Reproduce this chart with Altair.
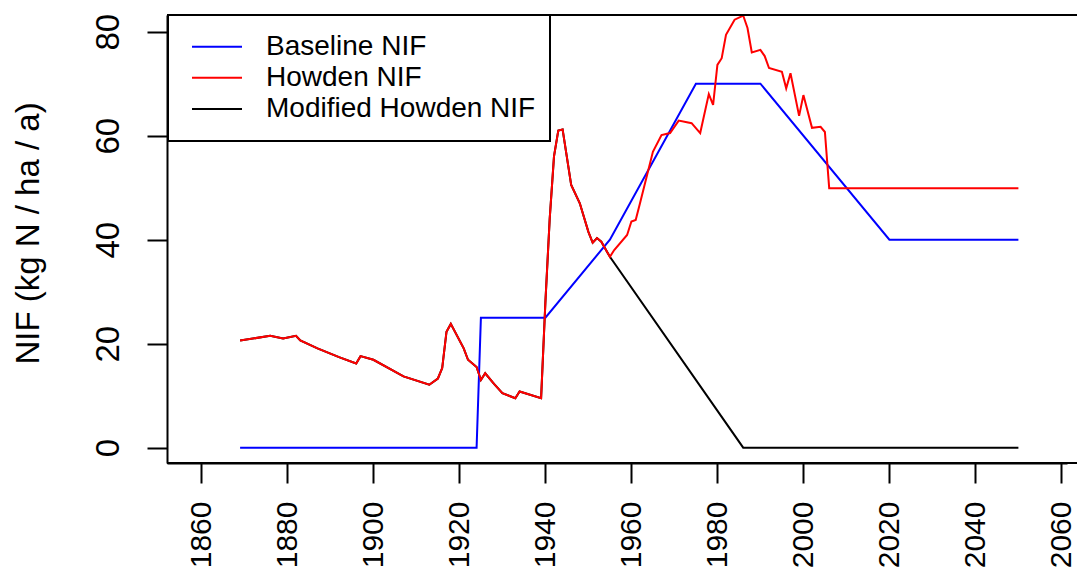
import altair as alt
import pandas as pd

# ---------------- data ----------------
base_years = [1869, 1924, 1925, 1940, 1955, 1975, 1990, 2020, 2050]
base_vals = [0, 0, 25, 25, 40, 70, 70, 40, 40]

howden_years = [1869, 1876, 1879, 1882, 1883, 1887, 1892, 1896, 1897, 1900,
                1907, 1913, 1915, 1916, 1917, 1918, 1921, 1922, 1924, 1925,
                1926, 1928, 1930, 1933, 1934, 1939, 1940, 1941, 1942, 1943,
                1944, 1946, 1948, 1950, 1951, 1952, 1953, 1955, 1956, 1959,
                1960, 1961, 1962, 1965, 1967, 1969, 1971, 1974, 1976, 1978,
                1979, 1980, 1981, 1982, 1984, 1986, 1987, 1988, 1990, 1991,
                1992, 1995, 1996, 1997, 1999, 2000, 2002, 2004, 2005, 2006,
                2050]
howden_vals = [20.6, 21.5, 21.0, 21.5, 20.6, 19.1, 17.4, 16.2, 17.6, 16.9,
               13.7, 12.1, 13.3, 15.3, 22.3, 23.8, 19.1, 16.9, 15.5, 13.0,
               14.3, 12.3, 10.5, 9.5, 10.8, 9.5, 28.0, 44.0, 56.0, 61.0,
               61.2, 50.5, 47.0, 41.5, 39.4, 40.3, 39.6, 36.7, 38.0, 40.9,
               43.5, 43.8, 47.0, 56.9, 60.1, 60.5, 62.9, 62.4, 60.5, 68.0,
               65.9, 73.6, 74.9, 79.4, 82.3, 83.1, 80.7, 76.0, 76.5, 75.3,
               73.0, 72.3, 69.1, 72.0, 63.8, 67.8, 61.5, 61.7, 60.7, 49.9,
               49.9]

mod_years = [1869, 1876, 1879, 1882, 1883, 1887, 1892, 1896, 1897, 1900,
             1907, 1913, 1915, 1916, 1917, 1918, 1921, 1922, 1924, 1925,
             1926, 1928, 1930, 1933, 1934, 1939, 1940, 1941, 1942, 1943,
             1944, 1946, 1948, 1950, 1951, 1952, 1953, 1955, 1986, 2050]
mod_vals = [20.6, 21.5, 21.0, 21.5, 20.6, 19.1, 17.4, 16.2, 17.6, 16.9,
            13.7, 12.1, 13.3, 15.3, 22.3, 23.8, 19.1, 16.9, 15.5, 13.0,
            14.3, 12.3, 10.5, 9.5, 10.8, 9.5, 28.0, 44.0, 56.0, 61.0,
            61.2, 50.5, 47.0, 41.5, 39.4, 40.3, 39.6, 36.7, 0.0, 0.0]

series_names = ["Baseline NIF", "Howden NIF", "Modified Howden NIF"]
series_colors = ["#0000FF", "#FF0000", "#000000"]

x_ticks = [1860, 1880, 1900, 1920, 1940, 1960, 1980, 2000, 2020, 2040, 2060]
y_ticks = [0, 20, 40, 60, 80]

# ---------------- layout ----------------
W, H = 900, 448
FONT = "Liberation Sans"

x_scale = alt.Scale(domain=[1852, 1852 + W / 4.3], nice=False, zero=False)
y_scale = alt.Scale(domain=[-2.95, 83.2], nice=False, zero=False)

x_axis = alt.Axis(values=x_ticks, title=None, labelAngle=270, labelAlign="right",
                  labelBaseline="middle", tickSize=20, labelPadding=18,
                  labelFontSize=30, labelFont=FONT, labelColor="black",
                  domainColor="black", domainWidth=2, tickColor="black", tickWidth=2,
                  grid=False, format="d", labelOverlap=False, labelFlush=False)
y_axis = alt.Axis(values=y_ticks, title="NIF (kg N / ha / a)", labelAngle=270,
                  labelAlign="center", labelBaseline="alphabetic", tickSize=20,
                  labelPadding=29, labelFontSize=33, labelFont=FONT, labelColor="black",
                  domainColor="black", domainWidth=2, tickColor="black", tickWidth=2,
                  grid=False, titleFontSize=33, titleFont=FONT, titleFontWeight="normal",
                  titleColor="black", titleAngle=270, titleAlign="center",
                  titleBaseline="alphabetic", titleX=-129, titleY=218,
                  labelOverlap=False, labelFlush=False)


def series_layer(years, vals, name, color):
    df = pd.DataFrame({"year": years, "value": vals, "series": name})
    return alt.Chart(df).mark_line(color=color, strokeWidth=2, clip=False).encode(
        x=alt.X("year:Q", scale=x_scale, axis=x_axis),
        y=alt.Y("value:Q", scale=y_scale, axis=y_axis),
    )


black = series_layer(mod_years, mod_vals, series_names[2], series_colors[2])
blue = series_layer(base_years, base_vals, series_names[0], series_colors[0])
red = series_layer(howden_years, howden_vals, series_names[1], series_colors[1])

dummy = pd.DataFrame({"a": [0]})

# box top line (R box(); right side is beyond the figure edge)
top_line = alt.Chart(dummy).mark_rule(color="black", strokeWidth=2).encode(
    x=alt.value(0), x2=alt.value(W + 10), y=alt.value(0))
bottom_line = alt.Chart(dummy).mark_rule(color="black", strokeWidth=2).encode(
    x=alt.value(0), x2=alt.value(W + 10), y=alt.value(H))

# legend
legend_box = alt.Chart(dummy).mark_rect(fill="white", stroke="black", strokeWidth=2).encode(
    x=alt.value(1), x2=alt.value(383), y=alt.value(0), y2=alt.value(126))

legend_rows = [31.7, 62.7, 94.0]
legend_order = [0, 1, 2]
legend_layers = []
for i, row_y in zip(legend_order, legend_rows):
    legend_layers.append(
        alt.Chart(dummy).mark_rule(color=series_colors[i], strokeWidth=2).encode(
            x=alt.value(25), x2=alt.value(75), y=alt.value(row_y)))
    legend_layers.append(
        alt.Chart(dummy).mark_text(align="left", baseline="middle", fontSize=28,
                                   font=FONT, color="black").encode(
            x=alt.value(99), y=alt.value(row_y), text=alt.value(series_names[i])))

chart = alt.layer(black, blue, red, top_line, bottom_line, legend_box, *legend_layers).properties(
    width=W, height=H,
    padding={"left": 159, "top": 7, "right": 10, "bottom": 107},
    autosize=alt.AutoSizeParams(type="none"),
    background="white",
).configure_view(stroke=None)

chart.save("out.html", embed_options={"renderer": "svg", "actions": False})
